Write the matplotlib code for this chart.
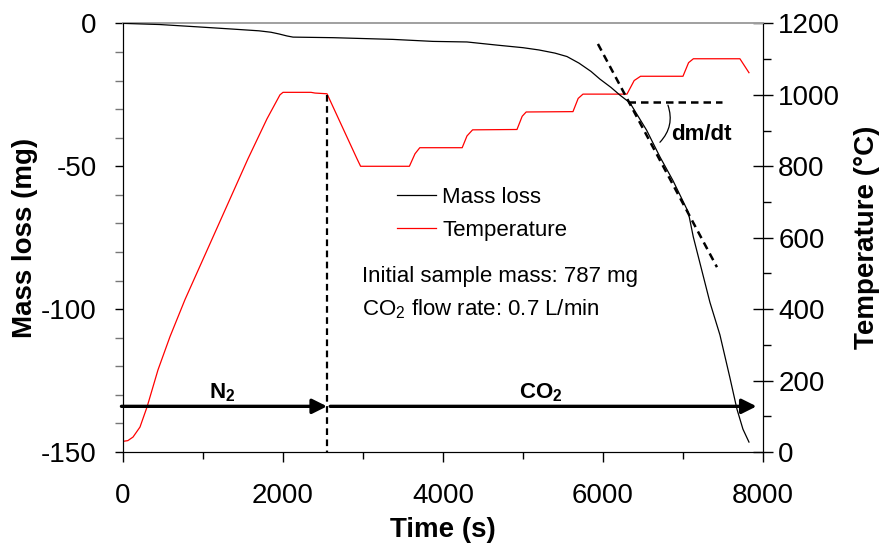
import numpy as np
import matplotlib
matplotlib.use("Agg")
import matplotlib.pyplot as plt
from matplotlib.ticker import MultipleLocator
from matplotlib.lines import Line2D

plt.rcParams["font.family"] = ["Liberation Sans", "DejaVu Sans"]
plt.rcParams["mathtext.default"] = "regular"
plt.rcParams["axes.unicode_minus"] = False

# mass loss (mg) vs time (s)
mass_t = [0, 460, 925, 1375, 1700, 1850, 1950, 2050, 2125, 2625, 3375, 3875,
          4300, 4675, 5000, 5200, 5400, 5550, 5700, 5850, 5962, 6100, 6212,
          6337, 6546, 6712, 6875, 7066, 7129, 7337, 7462, 7587, 7675, 7750,
          7825]
mass = [0, -0.4, -1.2, -2.0, -2.6, -3.1, -3.7, -4.4, -4.8, -5.0, -5.6, -6.3,
        -6.5, -7.6, -8.5, -9.3, -10.4, -11.6, -13.9, -16.8, -19.5, -22.4, -25.1,
        -27.8, -37.4, -46.7, -55.0, -66.0, -74.7, -97.6, -109, -124, -135, -142,
        -146.5]

# furnace temperature (C) vs time (s)
temp_t = [0, 60, 125, 212, 300, 437, 587, 775, 1562, 1800, 1962, 2000, 2350,
          2400, 2550, 2925, 2970, 3580, 3650, 3710, 4240, 4300, 4370, 4925,
          4990, 5040, 5625, 5690, 5750, 6300, 6390, 6470, 7000, 7070, 7130,
          7712, 7825]
temp = [30, 32, 42, 70, 126, 230, 323, 427, 821, 933, 1000, 1007, 1007,
        1005, 1003, 821, 800, 800, 835, 852, 852, 885, 902, 903,
        940, 952, 953, 990, 1002, 1002, 1040, 1052, 1052, 1090, 1101,
        1101, 1062]

# annotation values
switch_t = 2550          # N2 -> CO2 switch
arrow_y = -134
tangent_t = [5937, 7425]
tangent_m = [-7.2, -85.3]
flat_t = [6312, 7487]
flat_m = -27.5

fig, ax = plt.subplots(figsize=(8.8, 5.44), dpi=100)
fig.subplots_adjust(left=0.1398, right=0.867, bottom=0.169, top=0.957)
ax2 = ax.twinx()

ax2.plot(temp_t, temp, color="red", lw=0.9)
ax.plot(mass_t, mass, color="black", lw=0.9, zorder=5)
ax.set_zorder(ax2.get_zorder() + 1)
ax.patch.set_visible(False)

# vertical dashed switch line
ax.plot([switch_t, switch_t], [-25, -150], color="black", lw=1.6,
        ls=(0, (3, 2)))

# tangent and horizontal reference
ax.plot(tangent_t, tangent_m, color="black", lw=1.8, ls=(0, (3, 2)))
ax.plot(flat_t, [flat_m, flat_m], color="black", lw=1.8, ls=(0, (3, 2)))
ax.annotate("", xy=(6712, -41.6), xytext=(6812, -28.6),
            arrowprops=dict(arrowstyle="-", lw=0.9, color="black",
                            connectionstyle="arc3,rad=-0.3",
                            shrinkA=0, shrinkB=0))
ax.text(7225, -39, "dm/dt", fontsize=16, fontweight="bold",
        ha="center", va="center")

# gas arrows
ax.annotate("", xy=(switch_t, arrow_y), xytext=(-20, arrow_y),
            arrowprops=dict(arrowstyle="-|>", lw=2.4, color="black",
                            mutation_scale=22, shrinkA=0, shrinkB=0),
            annotation_clip=False)
ax.annotate("", xy=(7920, arrow_y), xytext=(2590, arrow_y),
            arrowprops=dict(arrowstyle="-|>", lw=2.4, color="black",
                            mutation_scale=22, shrinkA=0, shrinkB=0),
            annotation_clip=False)
ax.text(1237, -129.3, "N$_2$", fontsize=16, fontweight="bold",
        ha="center", va="center")
ax.text(5225, -129.3, "CO$_2$", fontsize=16, fontweight="bold",
        ha="center", va="center")

# legend and notes
handles = [Line2D([], [], color="black", lw=0.9),
           Line2D([], [], color="red", lw=0.9)]
ax.legend(handles, ["Mass loss", "Temperature"], loc="center left",
          bbox_to_anchor=(0.428, 0.556), frameon=False, fontsize=16,
          handlelength=1.75, handletextpad=0.3, labelspacing=0.55,
          borderpad=0, borderaxespad=0)
ax.text(0.373, 0.41, "Initial sample mass: 787 mg", transform=ax.transAxes,
        fontsize=16, ha="left", va="center")
ax.text(0.373, 0.334, "CO$_2$ flow rate: 0.7 L/min", transform=ax.transAxes,
        fontsize=16, ha="left", va="center")

# axes
ax.set_xlim(0, 8000)
ax.set_ylim(-150, 0)
ax2.set_ylim(0, 1200)
ax.xaxis.set_major_locator(MultipleLocator(2000))
ax.xaxis.set_minor_locator(MultipleLocator(1000))
ax.yaxis.set_major_locator(MultipleLocator(50))
ax.yaxis.set_minor_locator(MultipleLocator(10))
ax2.yaxis.set_major_locator(MultipleLocator(200))
ax2.yaxis.set_minor_locator(MultipleLocator(100))

ax.tick_params(axis="x", which="major", direction="out", length=7, width=1,
               labelsize=20, pad=15)
ax.tick_params(axis="x", which="minor", direction="out", length=5, width=1)
ax.tick_params(axis="y", which="major", direction="out", length=6, width=1,
               labelsize=20, pad=13)
ax.tick_params(axis="y", which="minor", direction="out", length=6, width=1,
               color="#777777")
ax2.tick_params(axis="y", which="major", direction="inout", length=14,
                width=1, labelsize=20, pad=4)
ax2.tick_params(axis="y", which="minor", direction="out", length=6, width=1)

for a in (ax, ax2):
    a.spines["top"].set_color("#a0a0a0")
    a.spines["top"].set_linewidth(1.2)

ax.set_xlabel("Time (s)", fontsize=20, fontweight="bold", labelpad=6)
ax.set_ylabel("Mass loss (mg)", fontsize=20, fontweight="bold", labelpad=2)
ax2.set_ylabel("Temperature (\u00b0C)", fontsize=20, fontweight="bold",
               labelpad=10)

fig.savefig("out.png", dpi=100)
